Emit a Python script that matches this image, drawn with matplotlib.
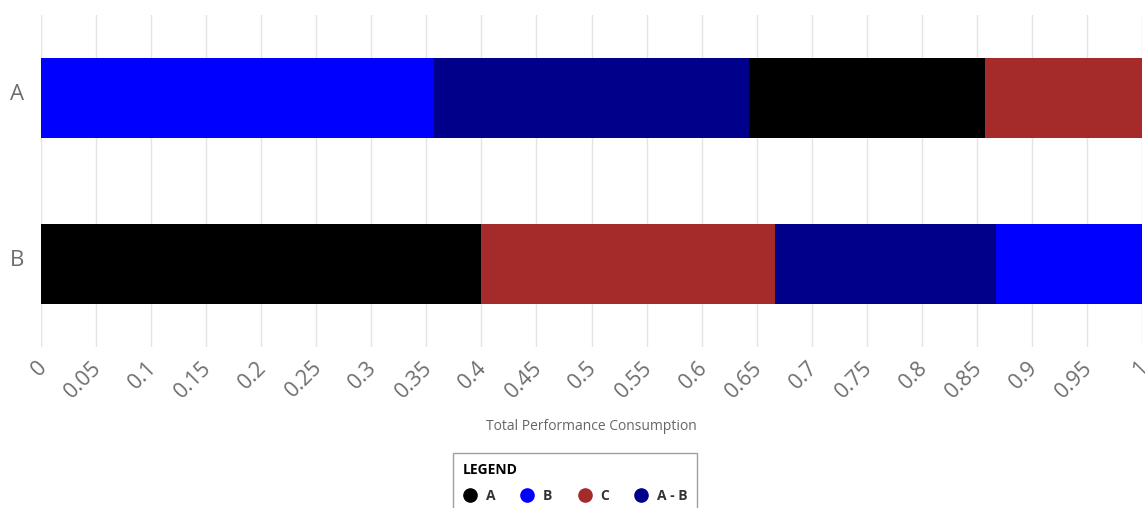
import numpy as np
import matplotlib
matplotlib.use("Agg")
import matplotlib.pyplot as plt
from matplotlib.lines import Line2D
from matplotlib.transforms import ScaledTranslation

plt.rcParams["font.family"] = ["Open Sans", "DejaVu Sans"]

categories = ["A", "B"]
series_names = ["A", "B", "C", "A - B"]
series_colors = ["#000000", "#0000ff", "#a52a2a", "#00008b"]
# share of total consumption per category, one list per series
share_a = [0.214, 0.400]
share_b = [0.357, 0.133]
share_c = [0.143, 0.267]
share_ab = [0.286, 0.200]

values = np.array([share_a, share_b, share_c, share_ab])

GRID, TXT = "#e4e4e4", "#6e6e6e"

fig = plt.figure(figsize=(11.45, 5.08), dpi=100)
ax = fig.add_axes([41 / 1145, 1 - 347 / 508, 1101 / 1145, 332 / 508])

# each row is stacked largest segment first
for j, cat in enumerate(categories):
    order = np.argsort(-values[:, j], kind="stable")
    left = 0.0
    for i in order:
        ax.barh(j, values[i, j], left=left, height=0.48,
                color=series_colors[i], edgecolor="none")
        left += values[i, j]

ax.set_xlim(0, 1)
ax.set_ylim(1.5, -0.5)
ax.set_yticks(range(len(categories)))
ax.set_yticklabels(categories)
ticks = np.round(np.arange(0, 1.0001, 0.05), 2)
ax.set_xticks(ticks)
ax.set_xticklabels([f"{t:g}" for t in ticks], rotation=45, ha="right",
                   va="top", rotation_mode="anchor")
ax.tick_params(axis="x", length=0, pad=8, labelsize=15.5, labelcolor=TXT)
ax.tick_params(axis="y", length=0, pad=12, labelsize=16, labelcolor=TXT)

# nudge tick labels a few pixels
px = 1 / fig.dpi
for lab in ax.get_xticklabels():
    lab.set_transform(lab.get_transform()
                      + ScaledTranslation(-5 * px, 1 * px, fig.dpi_scale_trans))
for lab in ax.get_yticklabels():
    lab.set_transform(lab.get_transform()
                      + ScaledTranslation(0, 6 * px, fig.dpi_scale_trans))

ax.grid(axis="x", color=GRID, lw=1)
ax.set_axisbelow(True)
for s in ax.spines.values():
    s.set_visible(False)
ax.set_xlabel("Total Performance Consumption", fontsize=10, color="#666666")
ax.xaxis.label.set_va("center")
ax.xaxis.set_label_coords(0.5, -0.238)

handles = [Line2D([], [], ls="none", marker="o", ms=9.5, color=c)
           for c in series_colors]
leg = fig.legend(handles, series_names, title="LEGEND", ncol=4,
                 loc="upper left", bbox_to_anchor=(453 / 1145, 1 - 453 / 508),
                 borderaxespad=0, frameon=True, fancybox=False,
                 edgecolor="#a0a0a0", framealpha=1,
                 prop={"size": 10, "weight": "bold"},
                 title_fontproperties={"size": 10, "weight": "bold"},
                 handlelength=1.0, handletextpad=0.65, columnspacing=1.8,
                 borderpad=0.7, labelspacing=0.9)
leg._legend_box.align = "left"
leg.get_frame().set_linewidth(1)
for t in leg.get_texts():
    t.set_color("#333333")

fig.savefig("out.png", dpi=100, facecolor="white")
